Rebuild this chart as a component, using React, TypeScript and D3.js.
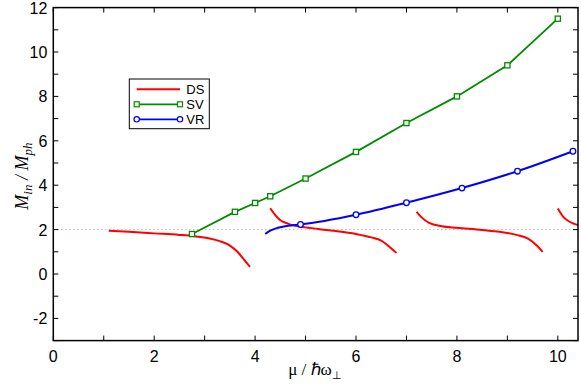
import { useEffect, useRef } from 'react';
import * as d3 from 'd3';

// DS curves (four branches)
const ds1: [number, number][] = [[1.1, 1.95], [1.5, 1.9], [2.0, 1.83], [2.5, 1.76], [2.8, 1.7], [3.1, 1.6], [3.3, 1.48], [3.5, 1.28], [3.65, 1.0], [3.78, 0.65], [3.9, 0.32]];
const ds2: [number, number][] = [[4.3, 2.96], [4.4, 2.65], [4.5, 2.42], [4.65, 2.27], [4.8, 2.17], [5.0, 2.1], [5.5, 1.96], [6.0, 1.8], [6.3, 1.65], [6.5, 1.5], [6.65, 1.25], [6.8, 0.95]];
const ds3: [number, number][] = [[7.2, 2.8], [7.3, 2.55], [7.45, 2.3], [7.7, 2.15], [8.0, 2.08], [8.5, 1.98], [9.0, 1.85], [9.2, 1.75], [9.4, 1.6], [9.55, 1.35], [9.7, 1.0]];
const ds4: [number, number][] = [[10.0, 2.95], [10.1, 2.6], [10.2, 2.4], [10.3, 2.28], [10.4, 2.2]];

// SV points
const svX = [2.75, 3.6, 4.0, 4.3, 5.0, 6.0, 7.0, 8.0, 9.0, 10.0];
const svY = [1.8, 2.8, 3.2, 3.5, 4.3, 5.5, 6.8, 8.0, 9.4, 11.5];

// VR line, markers only where flagged
const vrX = [4.2, 4.3, 4.45, 4.65, 4.9, 6.0, 7.0, 8.1, 9.2, 10.3];
const vrY = [1.8, 1.95, 2.08, 2.17, 2.23, 2.67, 3.21, 3.87, 4.63, 5.53];
const vrMark = [false, false, false, false, true, true, true, true, true, true];

const xTicks = [0, 2, 4, 6, 8, 10];
const yTicks = [-2, 0, 2, 4, 6, 8, 10, 12];
const refLevel = 2;

export default function App() {
  const ref = useRef<SVGSVGElement>(null);

  useEffect(() => {
    document.body.style.margin = '0';
    const width = 581, height = 386;
    const m = { top: 7.6, right: 3, bottom: 45.4, left: 53.3 };
    const svg = d3.select(ref.current);
    svg.selectAll('*').remove();

    const x = d3.scaleLinear().domain([0, 10.4]).range([m.left, width - m.right]);
    const y = d3.scaleLinear().domain([-3, 12]).range([height - m.bottom, m.top]);
    const line = d3.line<[number, number]>().x(d => x(d[0])).y(d => y(d[1]));
    const smooth = d3.line<[number, number]>().x(d => x(d[0])).y(d => y(d[1])).curve(d3.curveMonotoneX);

    // reference dotted line
    svg.append('line')
      .attr('x1', x(0)).attr('x2', x(10.4))
      .attr('y1', y(refLevel)).attr('y2', y(refLevel))
      .attr('stroke', '#c09090').attr('stroke-width', 1)
      .attr('stroke-dasharray', '1,3');

    // DS
    [ds1, ds2, ds3, ds4].forEach(seg => {
      svg.append('path').datum(seg)
        .attr('d', smooth).attr('fill', 'none')
        .attr('stroke', '#ff0000').attr('stroke-width', 2);
    });

    // SV
    const sv = svX.map((v, i) => [v, svY[i]] as [number, number]);
    svg.append('path').datum(sv)
      .attr('d', line).attr('fill', 'none')
      .attr('stroke', '#008c00').attr('stroke-width', 1.8);
    svg.selectAll('.svm').data(sv).enter().append('rect')
      .attr('x', d => x(d[0]) - 2.6).attr('y', d => y(d[1]) - 2.6)
      .attr('width', 5.2).attr('height', 5.2)
      .attr('fill', 'white').attr('stroke', '#008c00').attr('stroke-width', 1.3);

    // VR
    const vr = vrX.map((v, i) => [v, vrY[i]] as [number, number]);
    svg.append('path').datum(vr)
      .attr('d', smooth).attr('fill', 'none')
      .attr('stroke', '#0000ff').attr('stroke-width', 2);
    svg.selectAll('.vrm').data(vr.filter((_, i) => vrMark[i])).enter().append('circle')
      .attr('cx', d => x(d[0])).attr('cy', d => y(d[1])).attr('r', 2.8)
      .attr('fill', 'white').attr('stroke', '#0000ff').attr('stroke-width', 1.3);

    // frame
    svg.append('rect')
      .attr('x', x(0)).attr('y', y(12))
      .attr('width', x(10.4) - x(0)).attr('height', y(-3) - y(12))
      .attr('fill', 'none').attr('stroke', 'black').attr('stroke-width', 1.5);

    // ticks inward on all four sides
    const tl = 5;
    const tg = svg.append('g').attr('stroke', 'black').attr('stroke-width', 1);
    d3.range(0, 11, 1).forEach(v => {
      tg.append('line').attr('x1', x(v)).attr('x2', x(v)).attr('y1', y(-3)).attr('y2', y(-3) - tl);
      tg.append('line').attr('x1', x(v)).attr('x2', x(v)).attr('y1', y(12)).attr('y2', y(12) + tl);
    });
    d3.range(-3, 13, 1).forEach(v => {
      tg.append('line').attr('x1', x(0)).attr('x2', x(0) + tl).attr('y1', y(v)).attr('y2', y(v));
      tg.append('line').attr('x1', x(10.4)).attr('x2', x(10.4) - tl).attr('y1', y(v)).attr('y2', y(v));
    });

    const font = 'Liberation Sans, Arial, sans-serif';
    svg.selectAll('.xt').data(xTicks).enter().append('text')
      .attr('x', d => x(d)).attr('y', y(-3) + 21)
      .attr('text-anchor', 'middle').attr('font-family', font).attr('font-size', 16)
      .text(d => d);
    svg.selectAll('.yt').data(yTicks).enter().append('text')
      .attr('x', x(0) - 6).attr('y', d => y(d) + 6)
      .attr('text-anchor', 'end').attr('font-family', font).attr('font-size', 16)
      .text(d => d);

    // axis titles
    const serif = 'Liberation Serif, Times New Roman, serif';
    const xt = svg.append('text')
      .attr('x', 315).attr('y', 375)
      .attr('text-anchor', 'middle').attr('font-family', serif).attr('font-size', 17);
    xt.append('tspan').text('μ / ℏω');
    xt.append('tspan').attr('dy', 4).attr('font-size', 11).text('⊥');

    const yt = svg.append('text')
      .attr('transform', `translate(28,${(y(12) + y(-3)) / 2 + 2}) rotate(-90)`)
      .attr('text-anchor', 'middle').attr('font-family', serif).attr('font-size', 18)
      .attr('font-style', 'italic');
    yt.append('tspan').text('M');
    yt.append('tspan').attr('dy', 4).attr('font-size', 13).text('in');
    yt.append('tspan').attr('dy', -4).text(' / M');
    yt.append('tspan').attr('dy', 4).attr('font-size', 13).text('ph');

    // legend
    const lg = svg.append('g').attr('transform', 'translate(129.3,79)');
    lg.append('rect').attr('width', 80).attr('height', 49.7)
      .attr('fill', 'white').attr('stroke', 'black').attr('stroke-width', 1);
    const items = [
      { name: 'DS', color: '#ff0000', mark: 'none' },
      { name: 'SV', color: '#008c00', mark: 'square' },
      { name: 'VR', color: '#0000ff', mark: 'circle' },
    ];
    items.forEach((it, i) => {
      const yy = 10.3 + i * 15;
      lg.append('line').attr('x1', 7.4).attr('x2', 50.7).attr('y1', yy).attr('y2', yy)
        .attr('stroke', it.color).attr('stroke-width', it.mark === 'none' ? 2 : 1.8);
      if (it.mark === 'square') {
        [7.4, 50.7].forEach(px => lg.append('rect')
          .attr('x', px - 2.5).attr('y', yy - 2.5).attr('width', 5).attr('height', 5)
          .attr('fill', 'white').attr('stroke', it.color).attr('stroke-width', 1.2));
      } else if (it.mark === 'circle') {
        [7.4, 50.7].forEach(px => lg.append('circle')
          .attr('cx', px).attr('cy', yy).attr('r', 2.7)
          .attr('fill', 'white').attr('stroke', it.color).attr('stroke-width', 1.2));
      }
      lg.append('text').attr('x', 57).attr('y', yy + 4.5)
        .attr('font-family', font).attr('font-size', 13).text(it.name);
    });
  }, []);

  return <svg ref={ref} width={581} height={386} style={{ display: 'block', background: 'white' }} />;
}
